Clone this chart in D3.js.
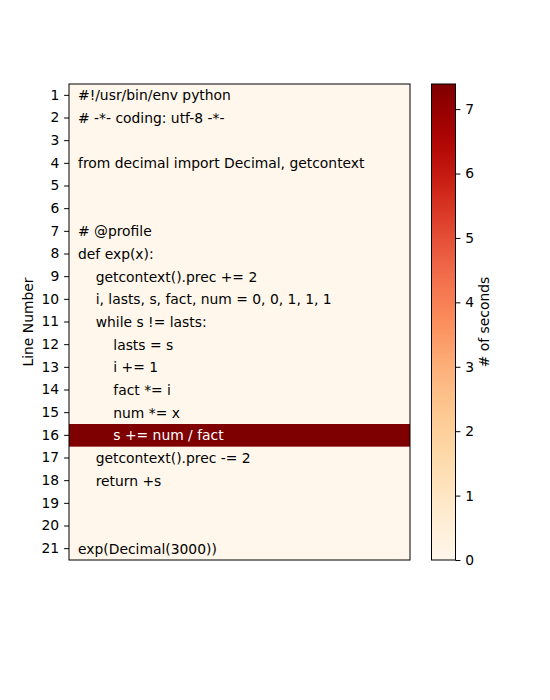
<!DOCTYPE html>
<html><head><meta charset="utf-8">
<script src="https://cdn.jsdelivr.net/npm/d3@7"></script>
<style>body{margin:0;background:#fff}svg text{font-family:"DejaVu Sans",sans-serif}</style>
</head><body><svg id="c" width="550" height="700"></svg>
<script>
const lineNumbers = [1,2,3,4,5,6,7,8,9,10,11,12,13,14,15,16,17,18,19,20,21];
const codeLines = [
  "#!/usr/bin/env python",
  "# -*- coding: utf-8 -*-",
  "",
  "from decimal import Decimal, getcontext",
  "",
  "",
  "# @profile",
  "def exp(x):",
  "    getcontext().prec += 2",
  "    i, lasts, s, fact, num = 0, 0, 1, 1, 1",
  "    while s != lasts:",
  "        lasts = s",
  "        i += 1",
  "        fact *= i",
  "        num *= x",
  "        s += num / fact",
  "    getcontext().prec -= 2",
  "    return +s",
  "",
  "",
  "exp(Decimal(3000))"
];
const seconds = [0,0,0,0,0,0,0,0,0,0,0.01,0.01,0.01,0.02,0.02,7.39,0,0,0,0,0.01];
const cbarTicks = [0,1,2,3,4,5,6,7];
const cbarMax = 7.39;

const svg = d3.select("#c");
const fs = 13.89;
const L = 69, R = 410, T = 84, B = 560;
const cbL = 431.5, cbR = 455.5;

const y = d3.scaleBand().domain(lineNumbers).range([T, B]).padding(0);
const color = d3.scaleSequential(d3.interpolateOrRd).domain([0, cbarMax]);
const data = lineNumbers.map((n, i) => ({n, code: codeLines[i], v: seconds[i]}));

// cells
svg.append("g").selectAll("rect").data(data).join("rect")
  .attr("x", L).attr("width", R - L)
  .attr("y", d => y(d.n)).attr("height", y.bandwidth() + 0.5)
  .attr("fill", d => color(d.v));

// code text
svg.append("g").selectAll("text").data(data).join("text")
  .attr("x", 78).attr("y", d => y(d.n) + y.bandwidth() / 2)
  .attr("dominant-baseline", "central")
  .attr("font-size", fs)
  .style("white-space", "pre")
  .attr("xml:space", "preserve")
  .attr("fill", d => d.v > cbarMax / 2 ? "#fff" : "#000")
  .text(d => d.code);

// frame
svg.append("rect").attr("x", L).attr("y", T).attr("width", R - L).attr("height", B - T)
  .attr("fill", "none").attr("stroke", "#000").attr("stroke-width", 1);

// y axis
const ya = svg.append("g").attr("transform", `translate(${L},0)`)
  .call(d3.axisLeft(y).tickSize(4.9).tickPadding(4.9));
ya.select(".domain").remove();
ya.selectAll("line").attr("stroke", "#000").attr("stroke-width", 1);
ya.selectAll("text").attr("font-size", fs).attr("font-family", "DejaVu Sans").attr("fill", "#000");

svg.append("text").attr("transform", `translate(33,${(T + B) / 2}) rotate(-90)`)
  .attr("text-anchor", "middle").attr("font-size", fs).text("Line Number");

// colorbar
const defs = svg.append("defs");
const grad = defs.append("linearGradient").attr("id", "cg")
  .attr("x1", 0).attr("y1", 1).attr("x2", 0).attr("y2", 0);
d3.range(0, 1.0001, 0.02).forEach(t => {
  grad.append("stop").attr("offset", t).attr("stop-color", color(t * cbarMax));
});
svg.append("rect").attr("x", cbL).attr("y", T).attr("width", cbR - cbL).attr("height", B - T)
  .attr("fill", "url(#cg)").attr("stroke", "#000").attr("stroke-width", 1);

const cy = d3.scaleLinear().domain([0, cbarMax]).range([B, T]);
const ca = svg.append("g").attr("transform", `translate(${cbR},0)`)
  .call(d3.axisRight(cy).tickValues(cbarTicks).tickFormat(d3.format("d")).tickSize(4.9).tickPadding(4.9));
ca.select(".domain").remove();
ca.selectAll("line").attr("stroke", "#000");
ca.selectAll("text").attr("font-size", fs).attr("font-family", "DejaVu Sans").attr("fill", "#000");

svg.append("text").attr("transform", `translate(489,${(T + B) / 2}) rotate(-90)`)
  .attr("text-anchor", "middle").attr("font-size", fs).text("# of seconds");
</script></body></html>
